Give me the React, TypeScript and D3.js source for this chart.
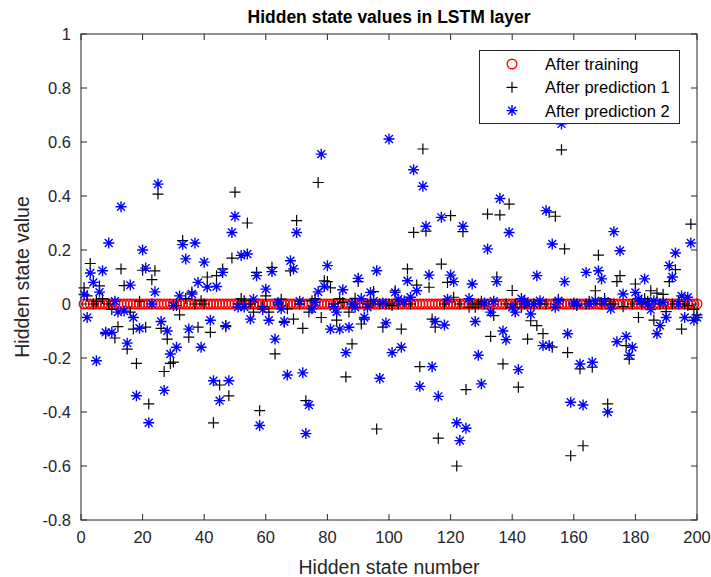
import React from "react";
import * as d3 from "d3";

// ---------- data ----------
const afterTraining: number[] = [
  0,0,0,0,0,0,0,0,0,0,0,0,0,0,0,0,0,0,0,0,
  0,0,0,0,0,0,0,0,0,0,0,0,0,0,0,0,0,0,0,0,
  0,0,0,0,0,0,0,0,0,0,0,0,0,0,0,0,0,0,0,0,
  0,0,0,0,0,0,0,0,0,0,0,0,0,0,0,0,0,0,0,0,
  0,0,0,0,0,0,0,0,0,0,0,0,0,0,0,0,0,0,0,0,
  0,0,0,0,0,0,0,0,0,0,0,0,0,0,0,0,0,0,0,0,
  0,0,0,0,0,0,0,0,0,0,0,0,0,0,0,0,0,0,0,0,
  0,0,0,0,0,0,0,0,0,0,0,0,0,0,0,0,0,0,0,0,
  0,0,0,0,0,0,0,0,0,0,0,0,0,0,0,0,0,0,0,0,
  0,0,0,0,0,0,0,0,0,0,0,0,0,0,0,0,0,0,0,0,
];

const afterPrediction1: number[] = [
  0.06,0.03,0.15,0.0,0.01,0.067,0.02,-0.11,0.0,-0.02,
  -0.126,-0.084,0.13,0.068,-0.167,-0.03,-0.093,-0.22,0.01,0.125,
  -0.086,-0.37,0.09,0.123,0.407,-0.09,-0.25,-0.13,-0.22,-0.215,
  -0.006,-0.04,0.235,0.02,-0.123,0.044,0.0,-0.086,0.012,0.0,
  0.1,-0.105,-0.44,0.105,-0.3,0.13,-0.084,-0.34,0.17,0.414,
  0.0,0.02,0.012,0.3,0.0,-0.03,0.117,-0.395,-0.01,0.03,
  -0.03,0.136,-0.185,0.0,0.018,-0.068,-0.018,0.123,-0.056,0.309,
  0.0,-0.09,-0.358,-0.03,
  0.012,0.02,0.45,-0.05,0.086,0.083,0.06,0.0,-0.06,0.02,
  0.006,-0.27,-0.03,-0.148,0.021,0.083,-0.074,-0.056,0.0,0.01,
  0.046,-0.463,0.0,-0.086,0.0,0.0,-0.006,0.049,0.0,-0.093,
  0.01,0.13,0.0,0.265,0.07,-0.232,0.574,0.27,0.062,-0.056,
  -0.086,-0.497,0.148,0.0,0.08,0.327,
  0.025,-0.6,0.0,0.268,-0.317,-0.012,0.0,-0.012,
  0.0,0.01,0.0,0.333,-0.12,-0.043,0.1,0.33,-0.222,0.0,
  0.37,0.05,0.0,-0.308,-0.012,0.0,-0.13,-0.062,0.0,-0.08,
  0.0,-0.11,0.0,0.34,-0.16,0.325,0.018,0.571,0.204,-0.18,
  -0.562,0.0,-0.006,-0.24,-0.525,0.0,0.01,-0.234,0.049,0.181,
  0.0,0.02,-0.37,0.0,0.0,0.083,0.105,-0.01,-0.154,-0.204,
  0.0,0.074,
  -0.05,0.0,0.02,0.01,0.049,-0.06,0.04,0.0,0.036,-0.028,
  0.083,0.0,0.127,0.01,-0.093,0.0,-0.006,0.296,-0.02,-0.04,
];

const afterPrediction2: number[] = [
  0.035,-0.05,0.115,0.08,-0.21,0.044,0.123,-0.105,0.226,-0.105,
  0.01,-0.03,0.36,-0.026,-0.145,0.07,-0.05,-0.34,-0.09,0.2,
  0.133,-0.44,0.0,0.045,0.444,-0.065,-0.32,-0.1,-0.185,-0.006,
  -0.16,0.03,0.22,0.167,-0.093,0.037,0.226,0.08,-0.16,0.155,
  0.063,-0.06,-0.284,0.065,-0.358,0.117,-0.08,-0.284,0.265,0.325,
  -0.011,0.18,-0.011,0.185,-0.056,0.018,0.105,-0.45,-0.02,0.055,
  -0.06,0.12,-0.13,0.006,-0.018,-0.065,-0.263,0.16,0.13,0.265,
  0.01,-0.255,-0.48,-0.374,-0.018,0.006,0.045,0.555,
  0.065,0.142,-0.093,-0.01,-0.03,-0.093,0.053,-0.18,-0.086,0.0,
  -0.012,0.095,0.02,-0.05,-0.012,0.043,0.01,0.123,-0.275,0.004,
  -0.07,0.611,-0.18,0.043,0.018,-0.16,0.01,0.086,0.025,0.497,
  0.049,-0.305,0.436,0.288,0.107,-0.232,-0.065,-0.342,0.321,-0.078,
  0.018,0.107,
  0.083,-0.44,-0.506,0.288,-0.46,0.02,0.074,-0.065,-0.19,-0.296,
  0.004,0.204,-0.03,0.01,0.083,0.391,-0.1,-0.132,0.265,-0.012,
  -0.03,-0.243,0.02,0.01,0.0,-0.037,0.0,0.105,0.012,-0.154,
  0.346,-0.154,0.222,-0.012,0.012,0.667,0.083,-0.11,-0.364,0.004,
  0.0,-0.222,-0.374,0.117,0.0,-0.216,0.012,0.123,0.093,0.01,
  -0.4,-0.018,0.268,-0.14,0.197,0.037,-0.12,-0.19,-0.16,0.043,
  0.02,0.01,0.093,0.0,-0.021,0.012,-0.11,-0.08,0.006,-0.05,
  0.142,0.1,0.189,0.0,0.03,-0.05,0.025,0.226,-0.06,-0.05,
];

const xTicks: number[] = [0, 20, 40, 60, 80, 100, 120, 140, 160, 180, 200];
const yTicks: number[] = [-0.8, -0.6, -0.4, -0.2, 0, 0.2, 0.4, 0.6, 0.8, 1];
const legendLabels: string[] = ["After training", "After prediction 1", "After prediction 2"];
const titleText = "Hidden state values in LSTM layer";
const xLabel = "Hidden state number";
const yLabel = "Hidden state value";

// ---------- layout ----------
const W = 711;
const H = 577;
const L = 81, R = 697, T = 34, B = 520;
const AX = "#262626";
const FONT = "'Liberation Sans', Arial, Helvetica, sans-serif";

const x = d3.scaleLinear().domain([0, 200]).range([L, R]);
const y = d3.scaleLinear().domain([-0.8, 1]).range([B, T]);

const plusPath = (s: number) => `M${-s},0H${s}M0,${-s}V${s}`;
const starPath = (s: number) => {
  const d = s * 0.72;
  return `M${-s},0H${s}M0,${-s}V${s}M${-d},${-d}L${d},${d}M${-d},${d}L${d},${-d}`;
};

const fmt = (v: number) => {
  const r = Math.round(v * 10) / 10;
  return r === 0 ? "0" : String(r);
};

export default function App() {
  const idx = (i: number) => i + 1;
  return (
    <svg
      width={W}
      height={H}
      style={{ position: "absolute", left: 0, top: 0, background: "#fff" }}
      fontFamily={FONT}
    >
      <rect x={0} y={0} width={W} height={H} fill="#fff" />
      {/* data */}
      <g>
        {afterTraining.map((v, i) => (
          <circle key={"r" + i} cx={x(idx(i))} cy={y(v)} r={4.8} fill="none" stroke="#ff0000" strokeWidth={1.4} />
        ))}
      </g>
      <g>
        {afterPrediction1.map((v, i) => (
          <path key={"k" + i} d={plusPath(5.5)} transform={`translate(${x(idx(i))},${y(v)})`} stroke="#000" strokeWidth={1.2} fill="none" />
        ))}
      </g>
      <g>
        {afterPrediction2.map((v, i) => (
          <path key={"b" + i} d={starPath(5.5)} transform={`translate(${x(idx(i))},${y(v)})`} stroke="#0000ff" strokeWidth={1.4} fill="none" />
        ))}
      </g>

      {/* axes box */}
      <rect x={L} y={T} width={R - L} height={B - T} fill="none" stroke={AX} strokeWidth={1} />
      {xTicks.map((t) => (
        <g key={"xt" + t}>
          <line x1={x(t)} x2={x(t)} y1={B} y2={B - 6} stroke={AX} />
          <line x1={x(t)} x2={x(t)} y1={T} y2={T + 6} stroke={AX} />
          <text x={x(t)} y={B + 23} textAnchor="middle" fontSize={16.5} fill={AX}>{t}</text>
        </g>
      ))}
      {yTicks.map((t) => (
        <g key={"yt" + t}>
          <line x1={L} x2={L + 6} y1={y(t)} y2={y(t)} stroke={AX} />
          <line x1={R} x2={R - 6} y1={y(t)} y2={y(t)} stroke={AX} />
          <text x={L - 10} y={y(t) + 6} textAnchor="end" fontSize={16.5} fill={AX}>{fmt(t)}</text>
        </g>
      ))}

      {/* titles */}
      <text x={(L + R) / 2} y={23} textAnchor="middle" fontSize={17.5} fontWeight="bold" fill="#000">{titleText}</text>
      <text x={(L + R) / 2} y={574} textAnchor="middle" fontSize={19.5} fill={AX}>{xLabel}</text>
      <text transform={`translate(29,${(T + B) / 2}) rotate(-90)`} textAnchor="middle" fontSize={19.5} fill={AX}>{yLabel}</text>

      {/* legend */}
      <g>
        <rect x={479.5} y={50.5} width={200} height={73} fill="#fff" stroke={AX} strokeWidth={1} />
        {legendLabels.map((lab, i) => {
          const cy = 64 + i * 23.3;
          return (
            <g key={"lg" + i}>
              {i === 0 && <circle cx={512} cy={cy} r={4.8} fill="none" stroke="#ff0000" strokeWidth={1.4} />}
              {i === 1 && <path d={plusPath(5.5)} transform={`translate(512,${cy})`} stroke="#000" strokeWidth={1.2} fill="none" />}
              {i === 2 && <path d={starPath(5.5)} transform={`translate(512,${cy})`} stroke="#0000ff" strokeWidth={1.4} fill="none" />}
              <text x={545} y={cy + 6} fontSize={16.5} fill="#000">{lab}</text>
            </g>
          );
        })}
      </g>
    </svg>
  );
}
